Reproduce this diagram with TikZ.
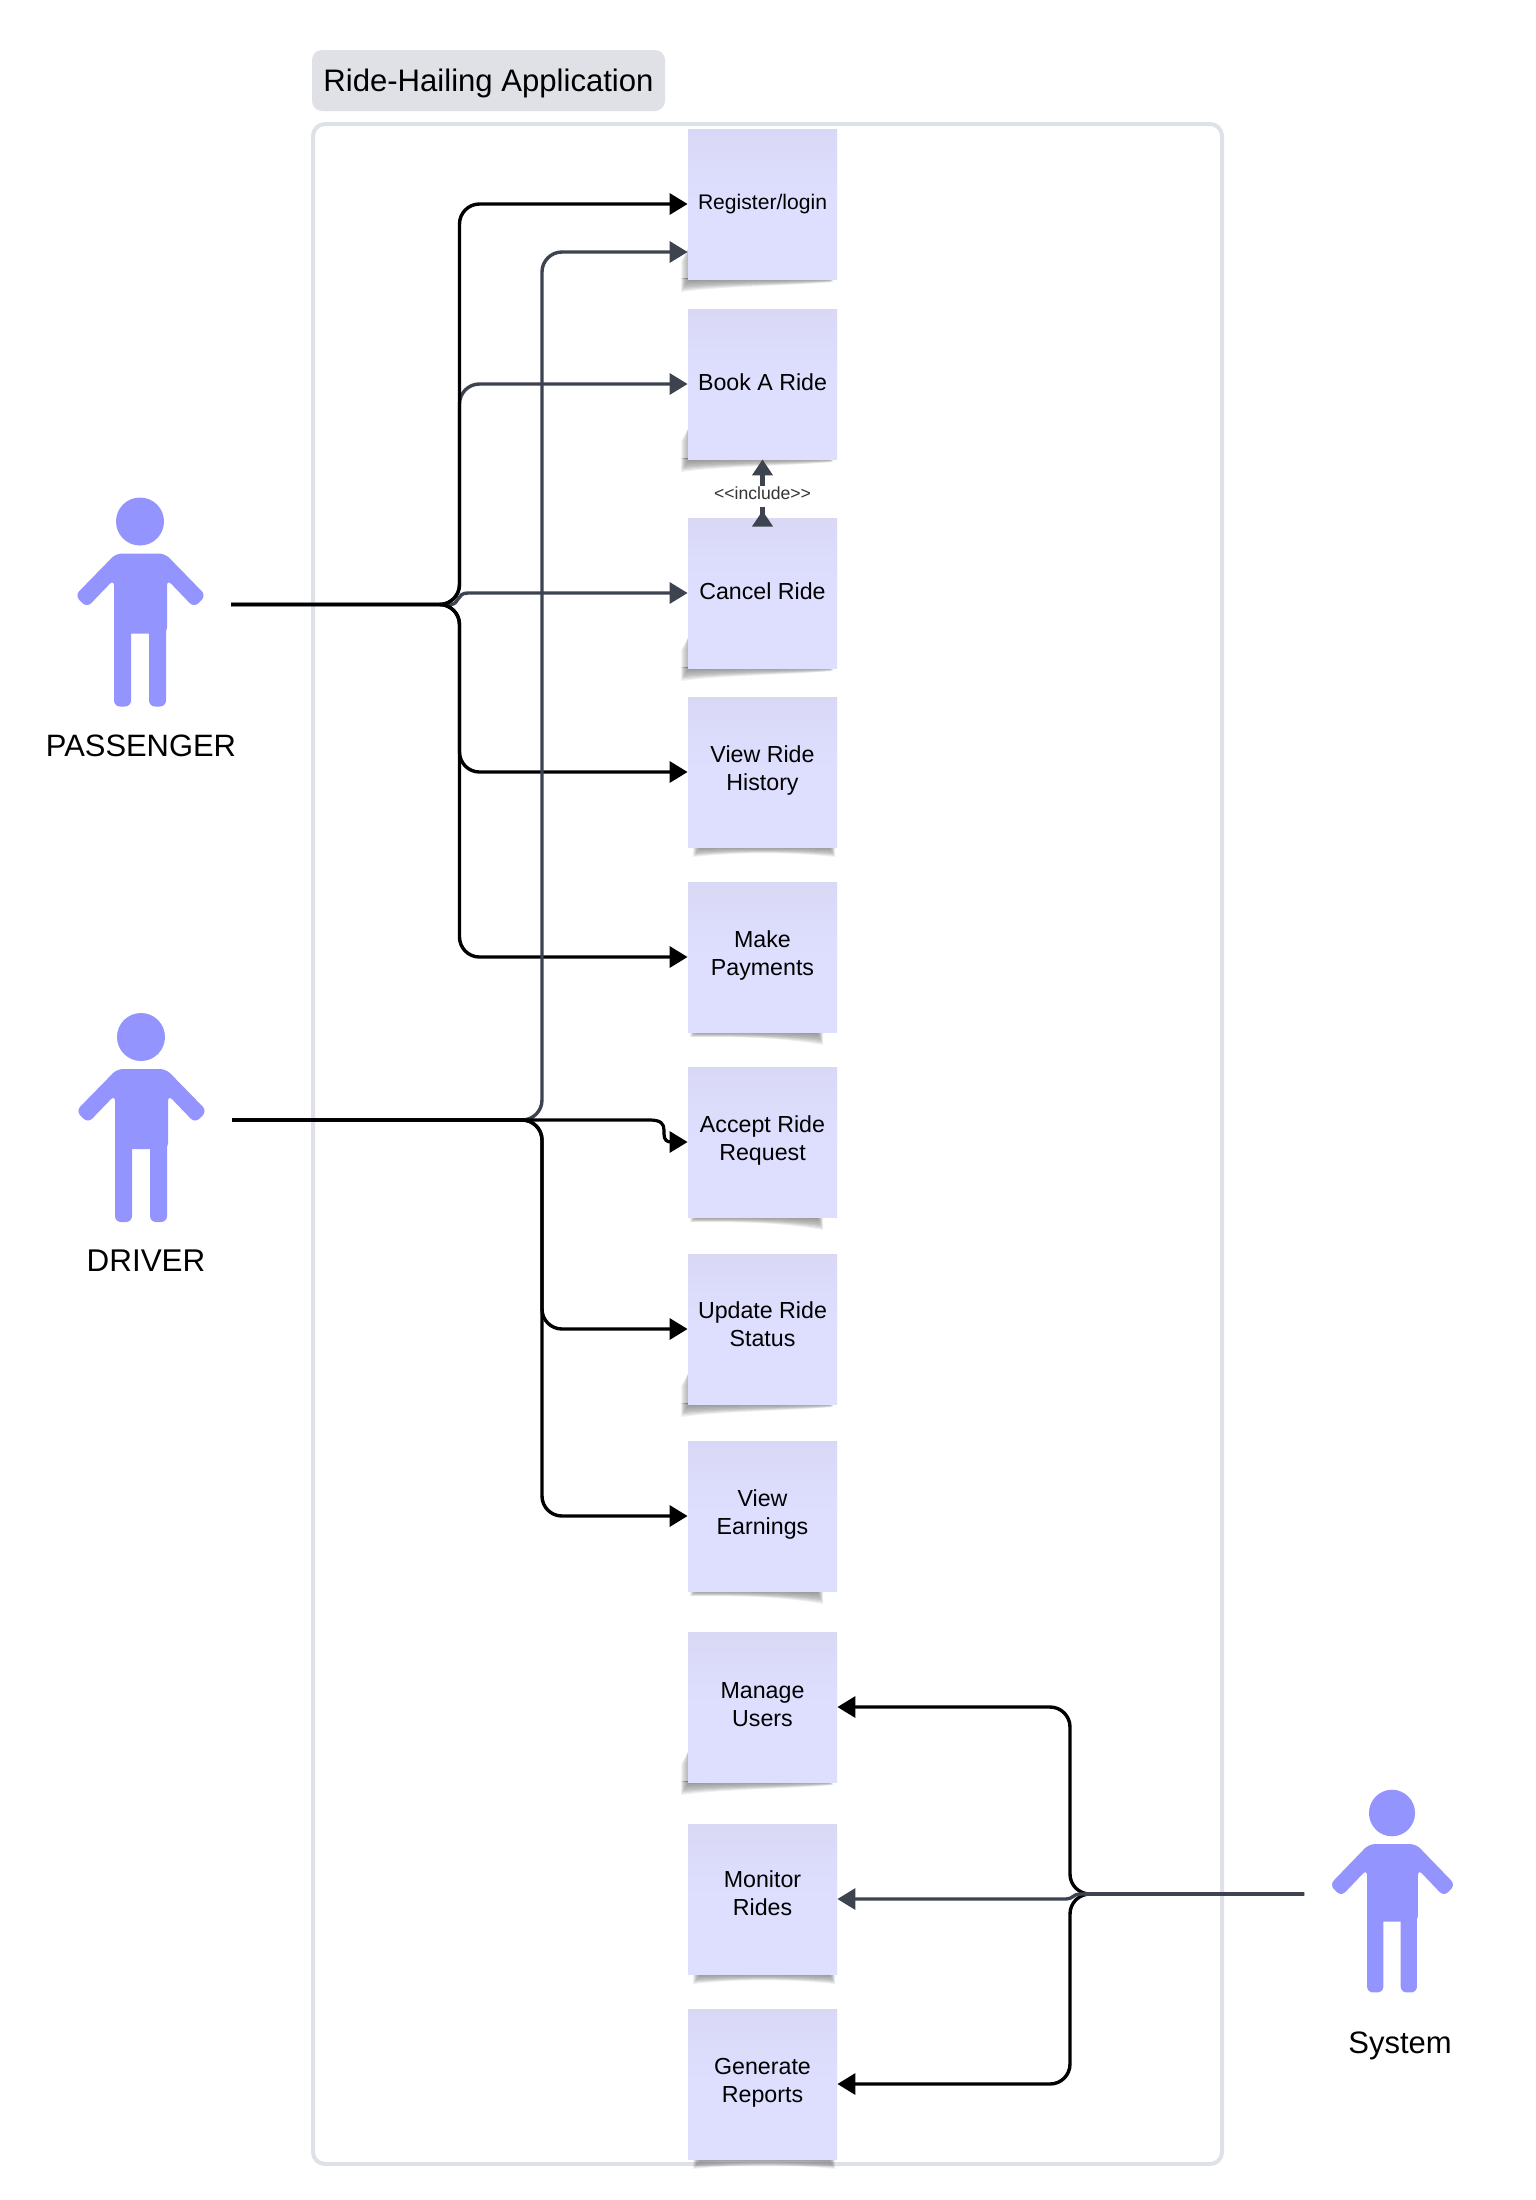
\documentclass[tikz,border=0pt]{standalone}
\usepackage{fontspec}
\setmainfont{Liberation Sans}
\usetikzlibrary{arrows.meta,calc}
\definecolor{frameC}{HTML}{DFE1E8}
\definecolor{titleC}{HTML}{DFE1E6}
\definecolor{personC}{HTML}{9494FF}
\definecolor{greyC}{HTML}{3D4450}
\definecolor{noteTop}{HTML}{D9D9F6}
\definecolor{noteBot}{HTML}{DEDEFF}
\tikzset{
  x=0.5pt,y=-0.5pt,
  tip/.style={-{Triangle[length=9pt,width=10.5pt]}},
  conn/.style={line width=1.7pt,rounded corners=10pt,tip},
  blk/.style={conn,draw=black},
  gry/.style={conn,draw=greyC},
  sticky/.style={minimum width=74.5pt,minimum height=75pt,inner sep=0pt,align=center,
    top color=noteTop,bottom color=noteBot,middle color=noteBot,font=\fontsize{11.6}{14}\selectfont},
  actorlabel/.style={inner sep=0pt},
}
\newcommand{\dn}[1]{\rule[-#1pt]{0pt}{#1pt}}
\newcommand{\personfig}[4]{%
  \begin{scope}[shift={(#1,#2)},xscale=#3,yscale=#4]
    \fill[personC] (0,0) circle[x radius=24,y radius=24];
    \fill[personC,rounded corners=3pt] (-24,32) -- (25,32) -- (66,74) -- (54,86) -- (27,58) -- (27,112) -- (-26,112) -- (-26,58) -- (-53,86) -- (-65,74) -- cycle;
    \fill[personC,rounded corners=3pt] (-26,100) rectangle (-9,185);
    \fill[personC,rounded corners=3pt] (9,100) rectangle (26,185);
  \end{scope}}
% bottom-edge soft shadow: yb, xl, xr, dl, dm, dr, left-edge run
\newcommand{\noteshadow}[7]{%
  \foreach \f in {0.15,0.3,0.45,0.6,0.7,0.8,0.9,1}{
    \fill[black,opacity=0.06] (#2+8-8*\f,#1-1) -- (#2+8-8*\f,#1+#4*\f) .. controls (#2+45,#1+#5*\f) and (#3-45,#1+#5*\f) .. (#3-6+6*\f,#1+#6*\f) -- (#3-6+6*\f,#1-1) -- cycle;
    \ifnum#7>0
      \fill[black,opacity=0.035] (688,#1-#7) -- (688-7*\f,#1-#7+12) -- (688-7*\f,#1) -- (688,#1) -- cycle;
    \fi
  }}
\newcommand{\shA}[1]{\noteshadow{#1}{693}{835}{10}{5}{10}{0}}
\newcommand{\shB}[1]{\noteshadow{#1}{690}{823}{5}{5}{13}{0}}
\newcommand{\shC}[1]{\noteshadow{#1}{681}{833}{13}{7}{3}{30}}
\begin{document}
\begin{tikzpicture}
\useasboundingbox (0,0) rectangle (1536,2200);
\fill[white] (0,0) rectangle (1536,2200);
% frame & title
\draw[frameC,line width=2pt,rounded corners=6pt] (313,124) rectangle (1222,2164);
\node[fill=titleC,rounded corners=5pt,minimum width=176.5pt,minimum height=30.5pt,inner sep=0pt,
  font=\fontsize{15.55}{19}\selectfont] (title) at (488.5,80.5) {\rule{0pt}{13.9pt}Ride-Hailing Application};
% shadows
\shC{279}\shC{459}\shC{668}\shA{847}\shB{1032}\shB{1217}\shC{1404}\shB{1591}\shC{1782}\shA{1974}\shA{2159}
% notes
\node[sticky] (reg) at (762.5,204) {\fontsize{10.55}{14}\selectfont Register/login};
\node[sticky] (book) at (762.5,384) {Book A Ride\dn{1.6}};
\node[sticky] (cancel) at (762.5,593) {Cancel Ride\dn{1.6}};
\node[sticky] (view) at (762.5,772) {View Ride\\History\dn{3.8}};
\node[sticky] (pay) at (762.5,957) {Make\\Payments\dn{3.8}};
\node[sticky] (accept) at (762.5,1142) {Accept Ride\\Request\dn{3.8}};
\node[sticky] (update) at (762.5,1329) {Update Ride\\Status\dn{4.9}};
\node[sticky] (earn) at (762.5,1516) {View\\Earnings\dn{3.8}};
\node[sticky] (manage) at (762.5,1707) {Manage\\Users\dn{2.8}};
\node[sticky] (monitor) at (762.5,1899) {Monitor\\Rides\dn{5.6}};
\node[sticky] (report) at (762.5,2084) {Generate\\Reports\dn{3.8}};
% actors
\personfig{140}{521.5}{1}{1}
\personfig{141}{1037}{1}{1}
\personfig{1392}{1813}{0.96}{0.97}
\node[actorlabel,font=\fontsize{15.45}{18}\selectfont] (plabel) at (141,746) {PASSENGER};
\node[actorlabel,font=\fontsize{15.7}{18}\selectfont] (dlabel) at (146,1261) {DRIVER};
\node[actorlabel,font=\fontsize{15.5}{18}\selectfont] (slabel) at (1400,2046) {System};
\coordinate (psrc) at (231,604.5);
\coordinate (dsrc) at (232,1120);
\coordinate (ssrc) at (1304,1894);
\coordinate (ptrunk) at (459.5,604.5);
\coordinate (dtrunk) at (542,1120);
\coordinate (strunk) at (1070,1894);
% connectors
\draw[gry] (psrc) -- (ptrunk) |- (book.west);
\draw[gry,sharp corners] (psrc) -- (450,604.5) .. controls (460,604.5) and (456,593) .. (468,593) -- (cancel.west);
\draw[blk] (psrc) -- (ptrunk) |- (reg.west);
\draw[blk] (psrc) -- (ptrunk) |- (view.west);
\draw[blk] (psrc) -- (ptrunk) |- (pay.west);
\draw[gry] (dsrc) -- (dtrunk) |- ($(reg.west)+(0,48)$);
\draw[blk,sharp corners,line width=1.6pt] (dsrc) -- (650,1120) .. controls (661,1120) and (664,1124) .. (664,1130) -- (664,1134) .. controls (664,1140) and (667,1142) .. (671,1142) -- (accept.west);
\draw[blk] (dsrc) -- (dtrunk) |- (update.west);
\draw[blk] (dsrc) -- (dtrunk) |- (earn.west);
\draw[blk] (ssrc) -- (strunk) |- (manage.east);
\draw[blk] (ssrc) -- (strunk) |- (report.east);
\draw[gry,sharp corners] (ssrc) -- (1080,1894) .. controls (1073,1894) and (1073,1899) .. (1066,1899) -- (monitor.east);
\draw[greyC,line width=1.7pt] (ssrc) -- (1085,1894);
% include
\draw[draw=greyC,line width=2.25pt,{Triangle[reversed,length=8pt,width=10pt]}-{Triangle[length=8pt,width=10pt]}] ($(cancel.north)+(0,9)$) -- (book.south);
\node[inner sep=0pt,minimum height=10.5pt,fill=white,font=\fontsize{8.8}{10}\selectfont,text=black!80] (inc) at (762.5,496) {<{}<include>{}>\dn{3}};
\end{tikzpicture}
\end{document}
